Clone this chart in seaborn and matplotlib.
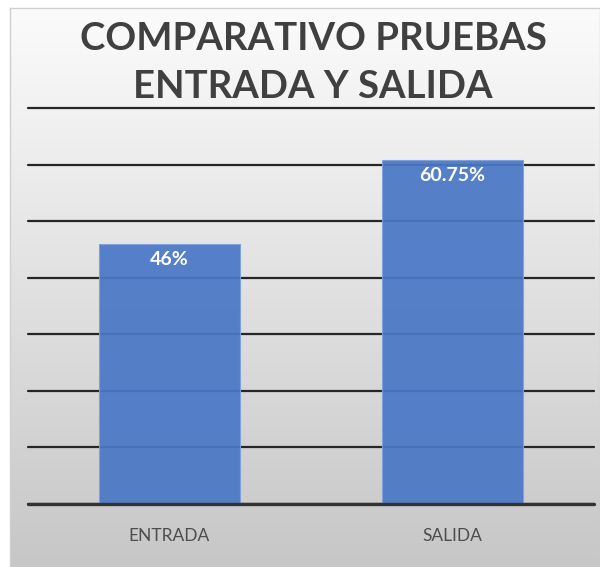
import numpy as np
import pandas as pd
import matplotlib
matplotlib.use("Agg")
import matplotlib.pyplot as plt
import seaborn as sns

categories = ["ENTRADA", "SALIDA"]
values = [46, 60.75]
value_labels = ["46%", "60.75%"]
title = "COMPARATIVO PRUEBAS\nENTRADA Y SALIDA"

df = pd.DataFrame({"cat": categories, "val": values})

sns.set_style("white")
plt.rcParams["font.family"] = ["Lato", "DejaVu Sans"]

W, H = 600, 567
fig = plt.figure(figsize=(W / 100, H / 100), dpi=100)
fig.patch.set_facecolor("white")

# background gradient panel
bg = fig.add_axes([10 / W, 0, 1 - 10 / W, 1 - 8 / H])
grad = np.linspace(0, 1, 256)[:, None]
top_c = np.array([0.985, 0.985, 0.985])
bot_c = np.array([0.78, 0.78, 0.78])
img = top_c[None, None, :] * (1 - grad[:, :, None]) + bot_c[None, None, :] * grad[:, :, None]
img = np.repeat(img, 2, axis=1)
bg.imshow(img, aspect="auto", extent=[0, 1, 0, 1])
bg.set_xlim(0, 1)
bg.set_ylim(0, 1)
bg.set_xticks([])
bg.set_yticks([])
for s in bg.spines.values():
    s.set_color("#d0d0d0")
    s.set_linewidth(1)

left, right = 28 / W, 594 / W
bottom, top = 1 - 504 / H, 1 - 108 / H
ax = fig.add_axes([left, bottom, right - left, top - bottom])
ax.patch.set_alpha(0)

sns.barplot(data=df, x="cat", y="val", color="#4a78c6", width=0.5, ax=ax,
            saturation=1, alpha=0.93, zorder=3, linewidth=0.8,
            edgecolor="#7fa0d8")
ax.set_xlim(-0.5, 1.5)
ax.set_ylim(0, 70)
ax.set_yticks(np.arange(0, 71, 10))
ax.yaxis.grid(True, color="#262626", linewidth=1.6, zorder=1)
for gl in ax.get_ygridlines():
    gl.set_clip_on(False)
ax.set_axisbelow(True)
ax.tick_params(axis="y", left=False, labelleft=False)
ax.tick_params(axis="x", bottom=False, pad=14, labelsize=12.5, labelcolor="#4d4d4d")
for s in ax.spines.values():
    s.set_visible(False)
ax.axhline(0, color="#333333", linewidth=2.4, zorder=4, clip_on=False)
ax.set_xlabel("")
ax.set_ylabel("")

for i, (v, lab) in enumerate(zip(values, value_labels)):
    ax.annotate(lab, (i, v), xytext=(0, -5), textcoords="offset points",
                ha="center", va="top", color="white", fontsize=14,
                fontweight="bold", zorder=5)

fig.text(313 / W, 1 - 63 / H, title, ha="center", va="center",
         fontsize=27.5, fontweight="bold", color="#404040", linespacing=1.5)

fig.savefig("out.png", dpi=100)
